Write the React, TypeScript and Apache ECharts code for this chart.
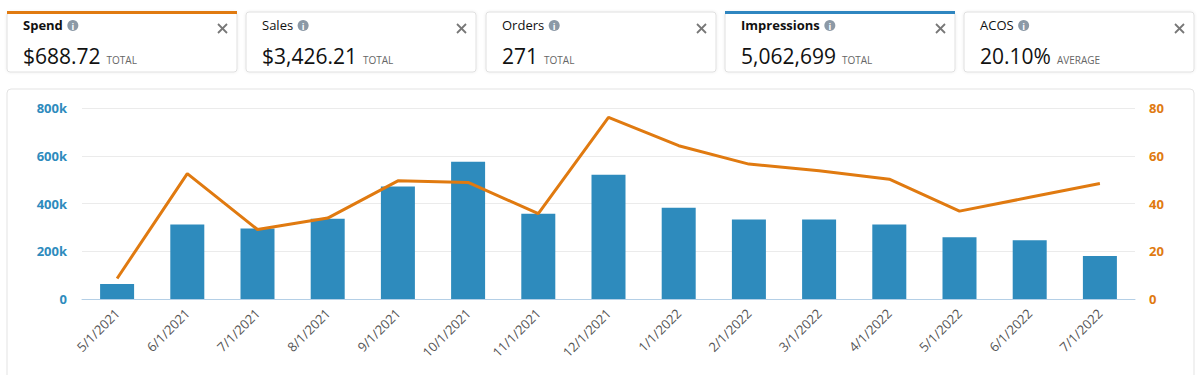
import React, { useEffect, useRef } from "react";
import * as echarts from "echarts";

const categories = [
  "5/1/2021", "6/1/2021", "7/1/2021", "8/1/2021", "9/1/2021", "10/1/2021", "11/1/2021",
  "12/1/2021", "1/1/2022", "2/1/2022", "3/1/2022", "4/1/2022", "5/1/2022", "6/1/2022", "7/1/2022",
];
const impressions = [
  63000, 312000, 295000, 336000, 471000, 575000, 357000,
  520000, 382000, 333000, 333000, 312000, 259000, 246000, 180000,
];
const spend = [8.6, 52.5, 29.1, 33.9, 49.5, 48.8, 35.8, 76.1, 64.2, 56.5, 53.7, 50.2, 36.8, 42.6, 48.4];

const cardTitles = ["Spend", "Sales", "Orders", "Impressions", "ACOS"];
const cardValues = ["$688.72", "$3,426.21", "271", "5,062,699", "20.10%"];
const cardUnits = ["TOTAL", "TOTAL", "TOTAL", "TOTAL", "AVERAGE"];
const cardSelected = [true, false, false, true, false];

const BLUE = "#2e8bbd";
const ORANGE = "#e07a10";
const FONT = "'Open Sans', 'Noto Sans', sans-serif";

export default function App() {
  const ref = useRef<HTMLDivElement>(null);
  useEffect(() => {
    document.body.style.margin = "0";
    const chart = echarts.init(ref.current!, null, { renderer: "svg" });

    const cvs = document.createElement("canvas");
    const ctx = cvs.getContext("2d")!;

    const graphics: any[] = [];
    graphics.push({
      type: "rect",
      shape: { x: 7, y: 89, width: 1187, height: 300, r: 4 },
      style: { fill: "#fff", stroke: "#e3e3e3", lineWidth: 1 },
      z: -10,
    });
    const cardW = 230;
    cardTitles.forEach((t, i) => {
      const x = Math.round(7 + i * 239.3);
      const sel = cardSelected[i];
      graphics.push({
        type: "rect",
        shape: { x, y: 12, width: cardW, height: 60, r: 3 },
        style: { fill: "#fff", stroke: "#e0e0e0", lineWidth: 1, shadowBlur: 3, shadowColor: "rgba(0,0,0,0.08)" },
        z: -10,
      });
      if (sel) {
        graphics.push({
          type: "rect",
          shape: { x, y: 11, width: cardW, height: 3 },
          style: { fill: i === 0 ? ORANGE : "#2f86c0" },
        });
      }
      const titleFont = `${sel ? "bold" : "normal"} 13px ${FONT}`;
      graphics.push({
        type: "text",
        x: x + 16,
        y: 25,
        style: { text: t, font: titleFont, fill: "#111", verticalAlign: "middle" },
      });
      ctx.font = titleFont;
      const w = ctx.measureText(t).width;
      const cx = x + 16 + w + 10;
      graphics.push({ type: "circle", shape: { cx, cy: 25.5, r: 5.5 }, style: { fill: "#8c99a6" } });
      graphics.push({
        type: "text",
        x: cx,
        y: 26,
        style: { text: "i", font: `bold 9px ${FONT}`, fill: "#fff", align: "center", verticalAlign: "middle" },
      });
      graphics.push({
        type: "line",
        shape: { x1: x + 211, y1: 24, x2: x + 220, y2: 33 },
        style: { stroke: "#777", lineWidth: 1.8 },
      });
      graphics.push({
        type: "line",
        shape: { x1: x + 220, y1: 24, x2: x + 211, y2: 33 },
        style: { stroke: "#777", lineWidth: 1.8 },
      });
      const valFont = `normal 21px ${FONT}`;
      ctx.font = valFont;
      const vw = ctx.measureText(cardValues[i]).width;
      graphics.push({
        type: "text",
        x: x + 16,
        y: 56,
        style: { text: cardValues[i], font: valFont, fill: "#111", verticalAlign: "middle" },
      });
      graphics.push({
        type: "text",
        x: x + 16 + vw + 6,
        y: 59.5,
        style: { text: cardUnits[i], font: `normal 10px ${FONT}`, fill: "#666", verticalAlign: "middle" },
      });
    });

    chart.setOption({
      animation: false,
      graphic: graphics,
      grid: { left: 82, right: 65, top: 108, bottom: 76, containLabel: false },
      xAxis: {
        type: "category",
        data: categories,
        axisTick: { show: false },
        axisLine: { lineStyle: { color: "#b4cfe6", width: 1 } },
        axisLabel: { rotate: 45, color: "#555", fontSize: 13, fontFamily: FONT, margin: 12, interval: 0 },
      },
      yAxis: [
        {
          type: "value",
          min: 0,
          max: 800000,
          interval: 200000,
          axisLabel: {
            color: BLUE,
            fontWeight: "bold",
            fontSize: 13,
            fontFamily: FONT,
            margin: 15,
            formatter: (v: number) => (v === 0 ? "0" : v / 1000 + "k"),
          },
          splitLine: { lineStyle: { color: "#ebebeb" } },
          axisLine: { show: false },
          axisTick: { show: false },
        },
        {
          type: "value",
          min: 0,
          max: 80,
          interval: 20,
          position: "right",
          axisLabel: { color: ORANGE, fontWeight: "bold", fontSize: 13, fontFamily: FONT, margin: 14 },
          splitLine: { show: false },
          axisLine: { show: false },
          axisTick: { show: false },
        },
      ],
      series: [
        {
          name: "Impressions",
          type: "bar",
          data: impressions,
          barWidth: 34,
          itemStyle: { color: BLUE },
          yAxisIndex: 0,
        },
        {
          name: "Spend",
          type: "line",
          data: spend,
          yAxisIndex: 1,
          symbol: "none",
          lineStyle: { color: ORANGE, width: 3 },
          z: 5,
        },
      ],
    });

    return () => chart.dispose();
  }, []);
  return <div ref={ref} style={{ width: 1200, height: 375 }} />;
}
